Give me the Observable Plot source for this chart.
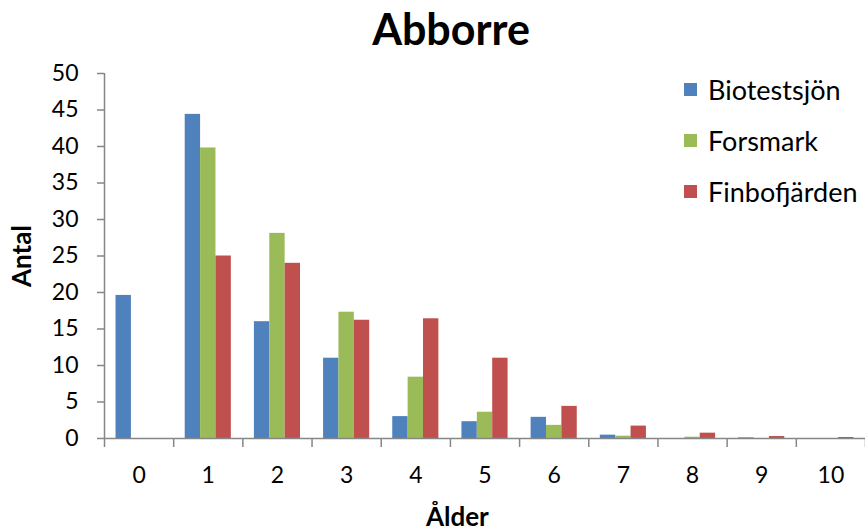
<!DOCTYPE html>
<html>
<head>
<meta charset="utf-8">
<script src="https://cdn.jsdelivr.net/npm/d3@7"></script>
<script src="https://cdn.jsdelivr.net/npm/@observablehq/plot@0.6"></script>
<style>
  body { margin: 0; background: #fff; }
  #chart { position: relative; width: 865px; height: 532px; font-family: Lato, "Open Sans", sans-serif; }
  #title { position: absolute; top: 3px; left: 451px; transform: translateX(-50%);
           font-weight: bold; font-size: 43px; color: #000; white-space: nowrap; }
  #legend { position: absolute; left: 684px; top: 64px; }
  .item { display: flex; align-items: center; height: 51px; font-size: 27px; color: #000; }
  .swatch { width: 13px; height: 13px; margin-right: 11px; }
</style>
</head>
<body>
<div id="chart">
  <div id="title">Abborre</div>
  <div id="legend"></div>
</div>
<script>
// Perch age distribution (number of fish per age class) at three sites
const ages = [0, 1, 2, 3, 4, 5, 6, 7, 8, 9, 10];
const seriesNames = ["Biotestsjön", "Forsmark", "Finbofjärden"];
const seriesColors = ["#4F81BD", "#9BBB59", "#C0504D"];
const biotestsjon = [19.6, 44.4, 16.0, 11.0, 3.0, 2.3, 2.9, 0.46, 0, 0.09, 0];
const forsmark = [0, 39.8, 28.1, 17.3, 8.4, 3.6, 1.8, 0.32, 0.18, 0, 0];
const finbofjarden = [0, 25.0, 24.0, 16.2, 16.4, 11.0, 4.4, 1.7, 0.73, 0.27, 0.14];
const yTicks = [0, 5, 10, 15, 20, 25, 30, 35, 40, 45, 50];

const seriesValues = [biotestsjon, forsmark, finbofjarden];
const rows = [];
seriesNames.forEach((name, s) => {
  ages.forEach((age, i) => rows.push({age, series: name, index: s, value: seriesValues[s][i]}));
});

// three bars per age class, occupying 2/3 of each class with a gap between groups
const barW = 2 / 9;
const left = d => d.age - 1 / 3 + d.index * barW;

// category boundaries for the tick marks between age classes
const bounds = ages.map(a => a - 0.5).concat([ages[ages.length - 1] + 0.5]);

const axisColor = "#868686";

const chart = Plot.plot({
  width: 865,
  height: 532,
  marginTop: 73,
  marginBottom: 94,
  marginLeft: 104,
  marginRight: 0,
  style: {fontFamily: "Lato, 'Open Sans', sans-serif", fontSize: "23px", color: "#000", background: "#fff"},
  x: {type: "linear", domain: [bounds[0], bounds[bounds.length - 1]]},
  y: {domain: [0, 50]},
  color: {domain: seriesNames, range: seriesColors},
  marks: [
    Plot.rectY(rows, {
      x1: left,
      x2: d => left(d) + barW,
      y: "value",
      fill: "series"
    }),
    Plot.ruleY([0], {stroke: axisColor, strokeWidth: 1.5}),
    Plot.ruleX([bounds[0]], {y1: 0, y2: 50, stroke: axisColor, strokeWidth: 1.5}),
    Plot.axisY({ticks: yTicks, tickSize: 7, tickPadding: 19, stroke: axisColor, strokeWidth: 1.5,
                fontSize: 23, fill: "#000", label: null, tickFormat: d => String(d)}),
    Plot.axisX({ticks: bounds, tickSize: 9, stroke: axisColor, strokeWidth: 1.5, text: null, label: null}),
    Plot.axisX({ticks: ages, tickSize: 0, tickPadding: 28, fontSize: 23, fill: "#000", label: null,
                tickFormat: d => String(d)}),
    Plot.text(["Antal"], {frameAnchor: "left", textAnchor: "middle", dx: -82, rotate: -90,
                          fontWeight: "bold", fontSize: 26, fill: "#000"}),
    Plot.text(["Ålder"], {frameAnchor: "bottom", dy: 87, dx: 7, x: 4.5, fontWeight: "bold", fontSize: 26, fill: "#000"})
  ]
});

const root = document.getElementById("chart");
root.insertBefore(chart, root.firstChild);

const legend = d3.select("#legend");
seriesNames.forEach((name, i) => {
  const item = legend.append("div").attr("class", "item");
  item.append("div").attr("class", "swatch").style("background", seriesColors[i]);
  item.append("span").text(name);
});
</script>
</body>
</html>
